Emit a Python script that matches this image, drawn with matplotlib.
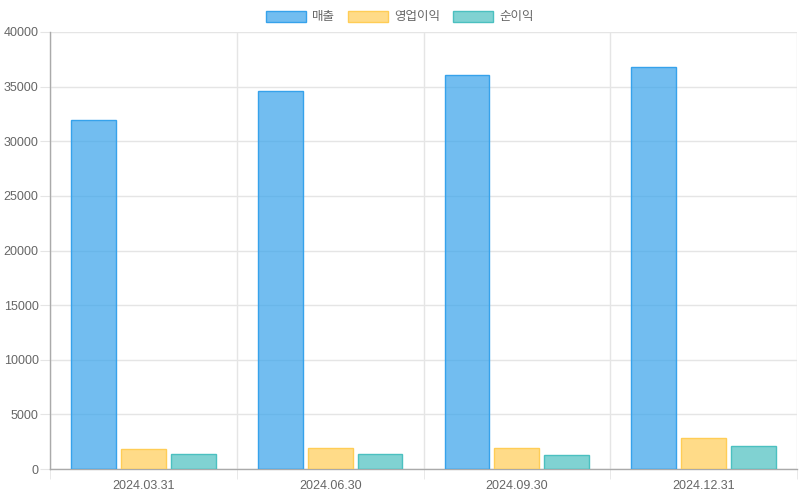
import matplotlib
matplotlib.use("Agg")
import matplotlib.pyplot as plt
import numpy as np
from matplotlib.ticker import FixedLocator

plt.rcParams['font.family'] = ['Liberation Sans', 'Noto Sans CJK KR', 'DejaVu Sans']

categories = ["2024.03.31", "2024.06.30", "2024.09.30", "2024.12.31"]
series_names = ["매출", "영업이익", "순이익"]
sales = [31900, 34600, 36100, 36800]
op_income = [1800, 1890, 1890, 2870]
net_income = [1400, 1340, 1280, 2130]
series = [sales, op_income, net_income]
yticks = [0, 5000, 10000, 15000, 20000, 25000, 30000, 35000, 40000]

fills = [(54/255, 162/255, 235/255, 0.7), (255/255, 205/255, 86/255, 0.7), (75/255, 192/255, 192/255, 0.7)]
edges = [(54/255, 162/255, 235/255, 1.0), (255/255, 205/255, 86/255, 1.0), (75/255, 192/255, 192/255, 1.0)]

fig = plt.figure(figsize=(8, 5), dpi=100)
ax = fig.add_axes([50/800, 31/500, 747/800, 437/500])

x = np.arange(len(categories))
slot = 0.8 / 3
bw = slot * 0.9
handles = []
for i, (vals, name) in enumerate(zip(series, series_names)):
    b = ax.bar(x + (i - 1) * slot, vals, width=bw, color=fills[i], edgecolor=edges[i],
               linewidth=1, label=name, zorder=3)
    handles.append(b)

ax.set_xlim(-0.5, len(categories) - 0.5)
ax.set_ylim(0, 40000)
ax.set_yticks(yticks)
ax.set_yticklabels([str(v) for v in yticks])
ax.set_xticks(x)
ax.set_xticklabels(categories)
ax.xaxis.set_minor_locator(FixedLocator(np.arange(len(categories) + 1) - 0.5))

grid_c = '#e5e5e5'
ax.grid(True, axis='y', color=grid_c, linewidth=1, zorder=0)
ax.grid(True, axis='x', which='minor', color=grid_c, linewidth=1, zorder=0)
ax.grid(False, axis='x', which='major')

ax.tick_params(axis='y', length=7.2, color=grid_c, pad=1, labelsize=9, labelcolor='#666666')
ax.tick_params(axis='x', which='major', length=0, pad=8, labelsize=9, labelcolor='#666666')
ax.tick_params(axis='x', which='minor', length=7.2, color=grid_c)

for s in ['top', 'right']:
    ax.spines[s].set_visible(False)
for s in ['left', 'bottom']:
    ax.spines[s].set_color('#aaaaaa')
    ax.spines[s].set_linewidth(1)

leg = fig.legend(handles=handles, labels=series_names, loc='center', bbox_to_anchor=(0.5, 1 - 17/500),
                 ncol=3, frameon=False, fontsize=9, handlelength=3.2, handleheight=0.96,
                 handletextpad=0.5, columnspacing=1.04, labelcolor='#666666')

fig.savefig("out.png", dpi=100)
